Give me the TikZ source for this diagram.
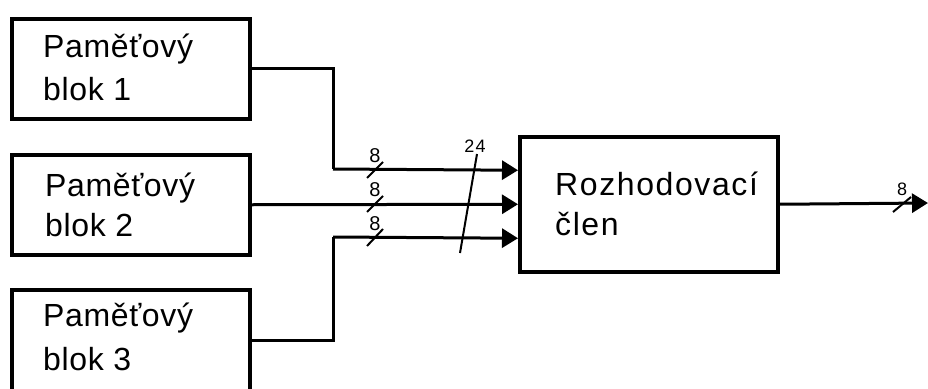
\documentclass[tikz,border=0pt]{standalone}
\usepackage{fontspec}
\setmainfont{Liberation Sans}
\usetikzlibrary{arrows.meta,calc}
\tikzset{
  blockbox/.style={draw=black, line width=3.5pt, fill=white, inner sep=0pt},
  txt/.style={font=\fontsize{32}{32}\selectfont\addfontfeature{LetterSpace=2}, inner sep=0pt, anchor=base west},
  rtxt/.style={font=\fontsize{32}{32}\selectfont\addfontfeature{LetterSpace=5}, inner sep=0pt, anchor=base west},
  conn/.style={line width=3pt},
  arr/.style={conn, -{Triangle[length=16pt,width=19pt]}},
  slash/.style={line width=2pt},
  buslbl/.style={font=\fontsize{20}{20}\selectfont, inner sep=0pt},
  widelbl/.style={font=\fontsize{18}{18}\selectfont\addfontfeature{LetterSpace=8}, inner sep=0pt},
  outlbl/.style={font=\fontsize{18}{18}\selectfont, inner sep=0pt}
}
\begin{document}
\begin{tikzpicture}[x=1pt,y=-1pt]
\useasboundingbox (0,0) rectangle (928,388);
% memory blocks
\node[blockbox, minimum width=238pt, minimum height=100pt, anchor=north west] (b1) at (10,17) {};
\node[blockbox, minimum width=238pt, minimum height=100pt, anchor=north west] (b2) at (10,153) {};
\node[blockbox, minimum width=238pt, minimum height=102pt, anchor=north west] (b3) at (10,288) {};
\node[txt] (t1a) at (43,57) {Paměťový};
\node[txt] (t1b) at (43,100) {blok 1};
\node[txt] (t2a) at (45,196) {Paměťový};
\node[txt] (t2b) at (45,236) {blok 2};
\node[txt] (t3a) at (43,326) {Paměťový};
\node[txt] (t3b) at (43,370) {blok 3};
% decision block
\node[blockbox, minimum width=258pt, minimum height=135pt, anchor=north west] (r) at (518,135) {};
\node[rtxt] (tra) at (555,195) {Rozhodovací};
\node[rtxt] (trb) at (555,235) {člen};
% inputs
\coordinate (in1) at ($(r.west)+(0,-34)$);
\coordinate (in2) at (r.west);
\coordinate (in3) at ($(r.west)+(0,34)$);
\coordinate (j1) at (333,169);
\coordinate (j3) at (333,237);
\draw[conn] (b1.east) -| (j1);
\draw[arr] (j1) -- (in1);
\draw[arr] (b2.east) -- (in2);
\draw[conn] (b3.east) -| (j3);
\draw[arr] (j3) -- (in3);
% output
\coordinate (out) at (928,203);
\draw[arr] (r.east) -- (out);
% bus markings
\draw[slash] (367,178) -- (383,162);
\draw[slash] (367,212) -- (383,196);
\draw[slash] (367,246) -- (383,229);
\node[buslbl] (l1) at (375,156) {8};
\node[buslbl] (l2) at (375,190) {8};
\node[buslbl] (l3) at (375,224) {8};
\draw[slash] (477,154) -- (460,253);
\node[widelbl] (l24) at (475,146) {24};
\draw[slash] (893,212) -- (911,197);
\node[outlbl] (lo) at (902,189) {8};
\end{tikzpicture}
\end{document}
